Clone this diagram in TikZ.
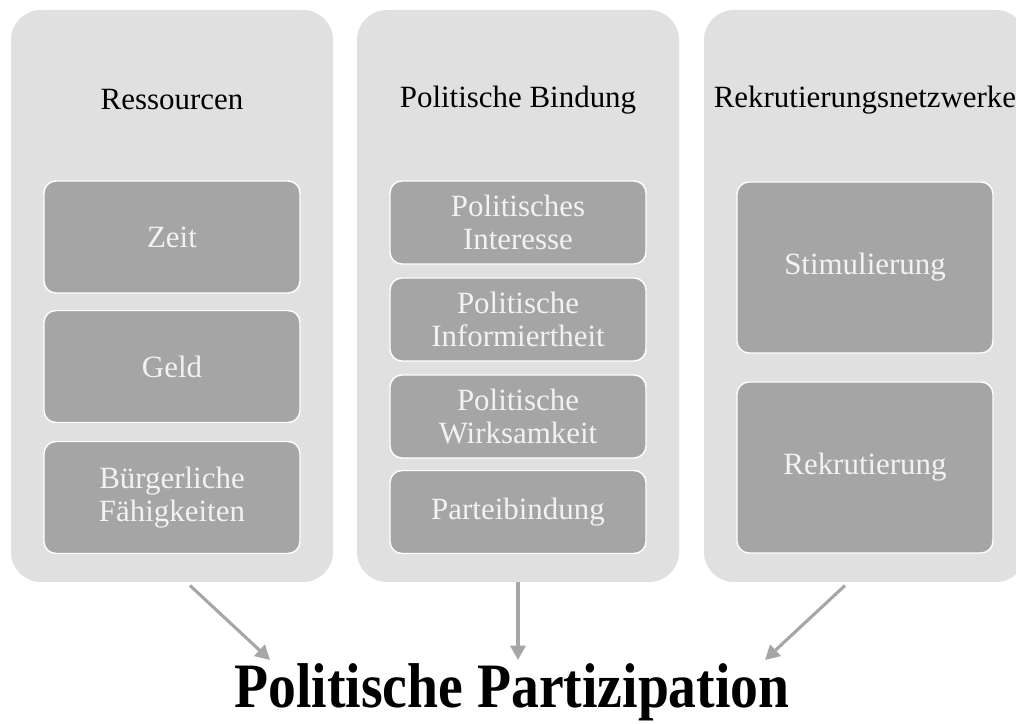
\documentclass[tikz,border=0pt]{standalone}
\usepackage{fontspec}
\setmainfont{Liberation Serif}
\usetikzlibrary{arrows.meta}
\definecolor{panelgray}{HTML}{E0E0E0}
\definecolor{boxgray}{HTML}{A5A5A5}
\definecolor{arrowgray}{HTML}{A6A6A6}
\begin{document}
\begin{tikzpicture}
        [panel/.style={rectangle, rounded corners=0.75cm, fill=panelgray, minimum width=8.05cm, minimum height=14.3cm},
        heading/.style={font=\fontsize{22}{24}\selectfont, text=black},
        item/.style={rectangle, rounded corners=0.3cm, fill=boxgray, draw=white, line width=1pt,
            minimum width=6.4cm, align=center, text=white!95!black, font=\fontsize{22}{23}\selectfont},
        flow/.style={arrowgray, line width=2.2pt, -{Triangle[length=3.6mm, width=3.8mm]}}]

        \fill[white] (0,0) rectangle (25.4,18.1);
        \clip (0,0) rectangle (25.4,18.1);

        % three panels
        \node[panel] (res) at (4.3,10.7) {};
        \node[panel] (bind) at (12.95,10.7) {};
        \node[panel] (netz) at (21.625,10.7) {};

        % panel headings
        \node[heading] at (4.3,15.6) {Ressourcen};
        \node[heading] at (12.95,15.6) {Politische Bindung};
        \node[heading] at (21.625,15.6) {Rekrutierungsnetzwerke};

        % Ressourcen
        \node[item, minimum height=2.8cm] (zeit) at (4.3,12.175) {Zeit};
        \node[item, minimum height=2.8cm] (geld) at (4.3,8.9375) {Geld};
        \node[item, minimum height=2.8cm] (buerger) at (4.3,5.6625) {Bürgerliche\\Fähigkeiten};

        % Politische Bindung
        \node[item, minimum height=2.075cm] (interesse) at (12.95,12.5375) {Politisches\\Interesse};
        \node[item, minimum height=2.075cm] (info) at (12.95,10.1125) {Politische\\Informiertheit};
        \node[item, minimum height=2.075cm] (wirk) at (12.95,7.6875) {Politische\\Wirksamkeit};
        \node[item, minimum height=2.075cm] (partei) at (12.95,5.3) {Parteibindung};

        % Rekrutierungsnetzwerke
        \node[item, minimum height=4.275cm] (stim) at (21.625,11.4125) {Stimulierung};
        \node[item, minimum height=4.275cm] (rekr) at (21.625,6.4125) {Rekrutierung};

        % result
        \node[font=\fontsize{45}{47}\selectfont\bfseries, anchor=base, xscale=0.88, inner sep=0pt] (pp) at (12.8,0.4) {Politische Partizipation};

        % arrow ends
        \coordinate (a1) at (6.75,1.6);
        \coordinate (a2) at (12.95,1.6);
        \coordinate (a3) at (19.125,1.6);

        \draw[flow] ([xshift=0.45cm, yshift=-0.08cm]res.south) -- (a1);
        \draw[flow] (bind.south) -- (a2);
        \draw[flow] ([xshift=-0.5cm, yshift=-0.08cm]netz.south) -- (a3);

    \end{tikzpicture}
\end{document}
